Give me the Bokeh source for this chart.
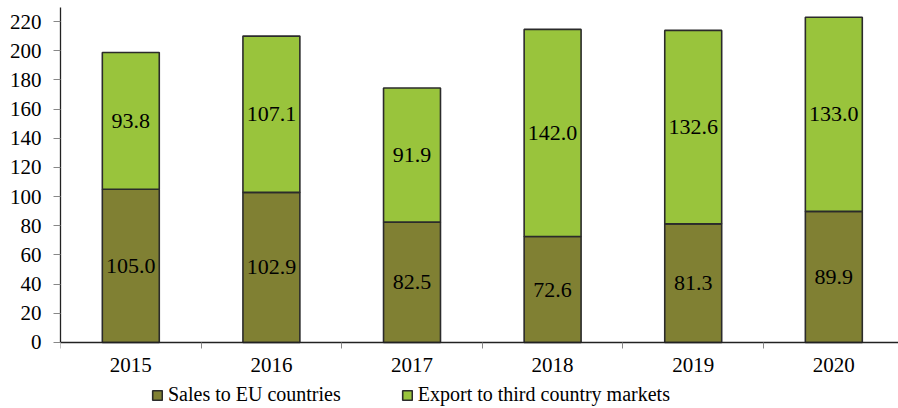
from bokeh.plotting import figure
from bokeh.models import Range1d, FixedTicker, ColumnDataSource, Legend, LegendItem
from bokeh.core.properties import value
from bokeh.embed import file_html
from bokeh.resources import INLINE

years = ["2015", "2016", "2017", "2018", "2019", "2020"]
eu_sales = [105.0, 102.9, 82.5, 72.6, 81.3, 89.9]
export_third = [93.8, 107.1, 91.9, 142.0, 132.6, 133.0]
y_ticks = [0, 20, 40, 60, 80, 100, 120, 140, 160, 180, 200, 220]

FONT = "Liberation Serif"
C_EU = "#808033"
C_EX = "#99c43c"
EDGE = "#2b2b2b"

centers = [i + 0.5 for i in range(len(years))]
bounds = list(range(len(years) + 1))

src = ColumnDataSource(dict(
    x=centers,
    eu=eu_sales,
    ex=export_third,
    eu_mid=[v / 2 for v in eu_sales],
    ex_mid=[a + b / 2 for a, b in zip(eu_sales, export_third)],
    eu_lab=[f"{v:.1f}" for v in eu_sales],
    ex_lab=[f"{v:.1f}" for v in export_third],
))

p = figure(frame_width=838, frame_height=401, output_backend="svg",
           toolbar_location=None, x_range=Range1d(0, 5.96), y_range=Range1d(-45.24, 229.6),
           min_border_left=60, min_border_right=0, min_border_top=7, min_border_bottom=0)

r = p.vbar_stack(["eu", "ex"], x="x", width=0.405, source=src,
                 fill_color=[C_EU, C_EX], line_color=EDGE, line_width=1.6)

p.text(x="x", y="eu_mid", text="eu_lab", source=src, text_align="center",
       text_baseline="middle", text_font=value(FONT), text_font_size="22px", text_color="black")
p.text(x="x", y="ex_mid", text="ex_lab", source=src, text_align="center",
       text_baseline="middle", text_font=value(FONT), text_font_size="22px", text_color="black")

p.xgrid.visible = False
p.ygrid.visible = False
p.outline_line_color = None

xa = p.xaxis[0]
xa.fixed_location = 0
xa.ticker = FixedTicker(ticks=centers, minor_ticks=bounds)
xa.major_label_overrides = {c: y for c, y in zip(centers, years)}
xa.major_tick_out = 0
xa.major_tick_in = 0
xa.minor_tick_out = 6
xa.minor_tick_in = 0
xa.minor_tick_line_color = "#888888"
xa.axis_line_color = "#222222"
xa.axis_line_width = 1.3
xa.major_label_text_font = FONT
xa.major_label_text_font_size = "21px"
xa.major_label_text_color = "black"
xa.major_label_standoff = 10

ya = p.yaxis[0]
ya.bounds = (0, 229.6)
ya.ticker = FixedTicker(ticks=y_ticks, minor_ticks=[])
ya.major_tick_out = 7
ya.major_tick_in = 0
ya.major_tick_line_color = "#888888"
ya.minor_tick_line_color = None
ya.axis_line_color = "#222222"
ya.axis_line_width = 1.3
ya.major_label_text_font = FONT
ya.major_label_text_font_size = "21px"
ya.major_label_text_color = "black"
ya.major_label_standoff = 12

legend = Legend(items=[LegendItem(label="Sales to EU countries", renderers=[r[0]]),
                       LegendItem(label="Export to third country markets", renderers=[r[1]])],
                orientation="horizontal", location=(91, 2))
legend.label_text_font = FONT
legend.label_text_font_size = "20px"
legend.label_text_color = "black"
legend.glyph_width = 12
legend.glyph_height = 12
legend.label_standoff = 5
legend.spacing = 60
legend.padding = 0
legend.margin = 0
legend.border_line_color = None
legend.background_fill_alpha = 0
legend.label_height = 20
p.add_layout(legend, "center")

open("out.html", "w").write(file_html(p, INLINE))
